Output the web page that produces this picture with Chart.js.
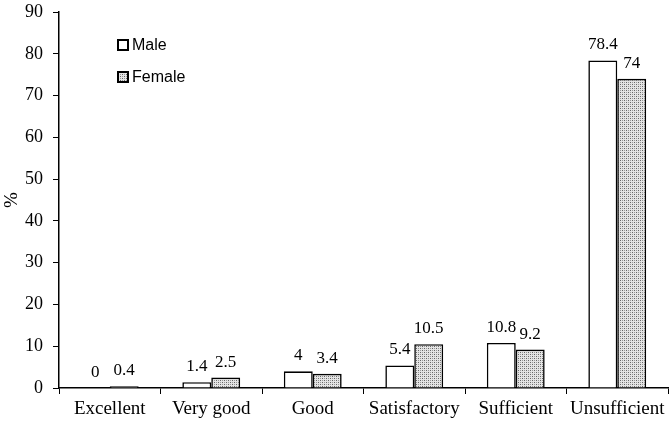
<!DOCTYPE html>
<html>
<head>
<meta charset="utf-8">
<script src="https://cdn.jsdelivr.net/npm/chart.js@4.4.1/dist/chart.umd.min.js"></script>
<style>
    html, body { margin: 0; padding: 0; background: #fff; }
    #wrap { width: 670px; height: 424px; }
</style>
</head>
<body>
<div id="wrap"><canvas id="grade-chart" width="670" height="424"></canvas></div>
<script>
// Chart data
const categories = ['Excellent', 'Very good', 'Good', 'Satisfactory', 'Sufficient', 'Unsufficient'];
const maleValues = [0, 1.4, 4, 5.4, 10.8, 78.4];
const femaleValues = [0.4, 2.5, 3.4, 10.5, 9.2, 74];
const seriesNames = ['Male', 'Female'];

const serif = '"Liberation Serif", "Times New Roman", serif';

/**
 * Build the dotted fill used for the Female bars
 */
function makeDotPattern() {
    const tile = document.createElement('canvas');
    tile.width = 4;
    tile.height = 4;
    const t = tile.getContext('2d');
    t.fillStyle = '#e4e4e4';
    t.fillRect(0, 0, 4, 4);
    t.fillStyle = '#666';
    t.fillRect(0, 0, 1, 1);
    t.fillRect(2, 2, 1, 1);
    t.fillStyle = '#999';
    t.fillRect(2, 0, 1, 1);
    t.fillRect(0, 2, 1, 1);
    return document.getElementById('grade-chart').getContext('2d').createPattern(tile, 'repeat');
}

const dotFill = makeDotPattern();

// Value labels above each bar
const valueLabels = {
    id: 'valueLabels',
    afterDatasetsDraw(chart) {
        const ctx = chart.ctx;
        ctx.save();
        ctx.font = '17px ' + serif;
        ctx.fillStyle = '#000';
        ctx.textAlign = 'center';
        ctx.textBaseline = 'alphabetic';
        chart.data.datasets.forEach((ds, i) => {
            chart.getDatasetMeta(i).data.forEach((bar, j) => {
                ctx.fillText(String(ds.data[j]), bar.x, bar.y - 11);
            });
        });
        ctx.restore();
    }
};

// Legend drawn inside the plot area, top left
const innerLegend = {
    id: 'innerLegend',
    afterDraw(chart) {
        const ctx = chart.ctx;
        const x = chart.chartArea.left + 59;
        const y0 = chart.chartArea.top + 33;
        ctx.save();
        ctx.font = '16px "Liberation Sans", Arial, sans-serif';
        ctx.textBaseline = 'middle';
        chart.data.datasets.forEach((ds, i) => {
            const y = y0 + i * 32;
            ctx.fillStyle = ds.backgroundColor;
            ctx.fillRect(x, y - 5, 10, 10);
            ctx.lineWidth = 2;
            ctx.strokeStyle = '#000';
            ctx.strokeRect(x, y - 5, 10, 10);
            ctx.fillStyle = '#000';
            ctx.fillText(ds.label, x + 14, y + 1);
        });
        ctx.restore();
    }
};

const ctx = document.getElementById('grade-chart').getContext('2d');
const gradeChart = new Chart(ctx, {
    type: 'bar',
    data: {
        labels: categories,
        datasets: [{
            label: seriesNames[0],
            data: maleValues,
            backgroundColor: '#ffffff',
            borderColor: '#000000',
            borderWidth: 1.6,
            categoryPercentage: 0.57,
            barPercentage: 1.0
        }, {
            label: seriesNames[1],
            data: femaleValues,
            backgroundColor: dotFill,
            borderColor: '#000000',
            borderWidth: 1.6,
            categoryPercentage: 0.57,
            barPercentage: 1.0
        }]
    },
    options: {
        responsive: false,
        animation: false,
        layout: {
            padding: { top: 0, right: 2, bottom: 0, left: 1 }
        },
        plugins: {
            legend: { display: false },
            tooltip: { enabled: false }
        },
        scales: {
            x: {
                grid: {
                    display: true,
                    drawOnChartArea: false,
                    drawTicks: true,
                    tickLength: 6,
                    color: '#000'
                },
                border: { color: '#000', width: 1.5 },
                ticks: {
                    color: '#000',
                    padding: 4,
                    maxRotation: 0,
                    minRotation: 0,
                    autoSkip: false,
                    font: { family: serif, size: 19 }
                },
                afterFit(scale) {
                    // x axis line sits at y = 388
                    scale.height = 36;
                }
            },
            y: {
                min: 0,
                max: 90,
                grid: {
                    display: true,
                    drawOnChartArea: false,
                    drawTicks: true,
                    tickLength: 6,
                    color: '#000'
                },
                border: { color: '#000', width: 1.5 },
                ticks: {
                    stepSize: 10,
                    color: '#000',
                    padding: 10,
                    font: { family: serif, size: 18 }
                },
                title: {
                    display: true,
                    text: '%',
                    color: '#000',
                    padding: { top: 0, bottom: 0 },
                    font: { family: serif, size: 19 }
                },
                afterFit(scale) {
                    // y axis line at x = 59, top of scale at y = 12
                    scale.width = 58;
                    scale.paddingTop = 12;
                    scale.paddingBottom = 0;
                }
            }
        }
    },
    plugins: [valueLabels, innerLegend]
});
</script>
</body>
</html>
